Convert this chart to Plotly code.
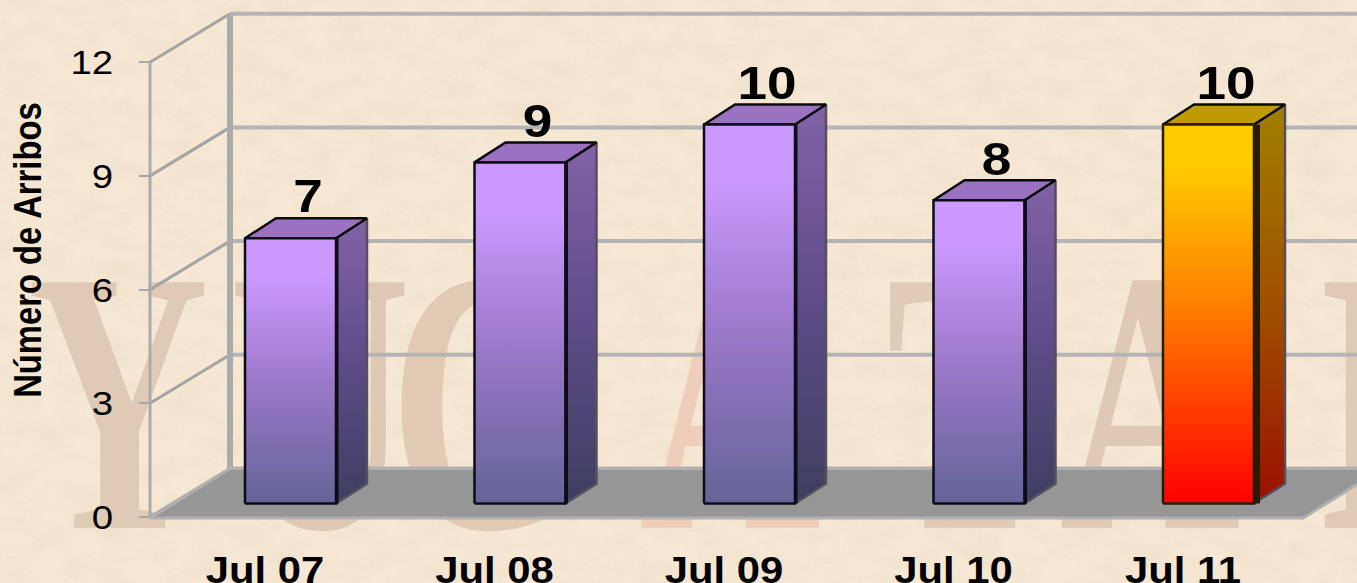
import base64
import plotly.graph_objects as go

# ---- data -------------------------------------------------------------
categories = ["Jul 07", "Jul 08", "Jul 09", "Jul 10", "Jul 11"]
arrivals = [7, 9, 10, 8, 10]
y_ticks = [0, 3, 6, 9, 12]
y_title = "Número de Arribos"
highlight = "Jul 11"

# ---- pseudo-3D projection, expressed in axis units --------------------
X_PX = 229.5   # pixels per category step
Y_PX = 37.9    # pixels per value unit
def dx(px): return px / X_PX
def dy(px): return px / Y_PX

WALL_DX, WALL_DY = dx(80), dy(48.5)      # depth of the chart box
BAR_OFF_X, BAR_OFF_Y = dx(25.5), dy(13.5)  # front face of the bars inside the box
BAR_DX, BAR_DY = dx(31), dy(20)          # depth of the bars
BAR_HALF = dx(45.5)
X0 = dx(-115)                            # left edge of the box at value axis
X1 = dx(1303 - 265)                      # right edge of the floor
X_END = dx(1400 - 265)

PURPLE = dict(
    front=[[0, "#646498"], [0.45, "#9A78C8"], [0.86, "#CB99FF"], [1, "#CB99FF"]],
    side=[[0, "#3E3E60"], [0.5, "#5E4C88"], [1, "#8262A8"]],
    top="#9A72C0", edge="#0c0c18", band=3.5)
GOLD = dict(
    front=[[0, "#FF0000"], [0.5, "#FF7A00"], [0.9, "#FFCC00"], [1, "#FFCC00"]],
    side=[[0, "#991000"], [0.5, "#A05000"], [1, "#A08000"]],
    top="#BF9900", edge="#2a1a00", band=7)

fig = go.Figure()
plain = dict(mode="lines", hoverinfo="skip", showlegend=False)

# ---- faint backdrop lettering -----------------------------------------
backdrop = [("Y", 118, "#DFCAB5", "middle center"), ("U", 320, "#DFC9B4", "middle center"),
            ("C", 480, "#E2CAB5", "middle center"), ("A", 730, "#EECDBA", "middle center"),
            ("T", 970, "#E0CCB6", "middle center"), ("A", 1150, "#DFC9B4", "middle center"),
            ("N", 1320, "#DFCAB5", "middle right")]
for ch, px, col, pos in backdrop:
    fig.add_trace(go.Scatter(
        x=[dx(px - 265)], y=[dy(517 - 434)], mode="text", text=[ch],
        textposition=pos, cliponaxis=False, hoverinfo="skip", showlegend=False,
        textfont=dict(family="Liberation Serif", size=375, color=col, weight="bold")))
fig.add_trace(go.Scatter(
    x=[dx(130 - 265), dx(1105 - 265)], y=[dy(517 - 562)] * 2, mode="text", text=["F", "• T"],
    textposition="bottom center", cliponaxis=False, hoverinfo="skip", showlegend=False,
    textfont=dict(family="Liberation Serif", size=72, color="#DCCDB8")))

# ---- walls ------------------------------------------------------------
for t in y_ticks:
    fig.add_trace(go.Scatter(x=[X0 + WALL_DX, X_END], y=[t + WALL_DY] * 2,
                             line=dict(color="#B4B4B4", width=4), **plain))
    fig.add_trace(go.Scatter(x=[X0, X0 + WALL_DX], y=[t, t + WALL_DY],
                             line=dict(color="#A4A4A4", width=3), **plain))
fig.add_trace(go.Scatter(x=[X0 + WALL_DX] * 2, y=[0 + WALL_DY, y_ticks[-1] + WALL_DY],
                         line=dict(color="#ABABAB", width=6), **plain))
fig.add_trace(go.Scatter(x=[X0, X0], y=[0, y_ticks[-1]],
                         line=dict(color="#ABABAB", width=3), **plain))

# ---- floor ------------------------------------------------------------
fig.add_trace(go.Scatter(
    x=[X0, X1, X1 + WALL_DX, X0 + WALL_DX, X0],
    y=[-dy(1), -dy(1), WALL_DY, WALL_DY, -dy(1)],
    fill="toself", fillcolor="#969696", line=dict(color="#B0B0B0", width=3), **plain))

# ---- bars -------------------------------------------------------------
for i, (cat, v) in enumerate(zip(categories, arrivals)):
    st = GOLD if cat == highlight else PURPLE
    xl = i + BAR_OFF_X - BAR_HALF
    xr = i + BAR_OFF_X + BAR_HALF
    y0 = BAR_OFF_Y
    y1 = v + BAR_OFF_Y
    # side face
    fig.add_trace(go.Scatter(
        x=[xr, xr + BAR_DX, xr + BAR_DX, xr, xr],
        y=[y0, y0 + BAR_DY, y1 + BAR_DY, y1, y0],
        fill="toself", fillgradient=dict(type="vertical", colorscale=st["side"]),
        line=dict(color="#55505c", width=2.5), **plain))
    # top face
    fig.add_trace(go.Scatter(
        x=[xl, xr, xr + BAR_DX, xl + BAR_DX, xl],
        y=[y1, y1, y1 + BAR_DY, y1 + BAR_DY, y1],
        fill="toself", fillcolor=st["top"], line=dict(color="#0a0a0a", width=2.5), **plain))
    # front face
    fig.add_trace(go.Scatter(
        x=[xl, xr, xr, xl, xl], y=[y0, y0, y1, y1, y0],
        fill="toself", fillgradient=dict(type="vertical", colorscale=st["front"]),
        line=dict(color=st["edge"], width=2.5), **plain))
    # dark edge between front and side
    fig.add_trace(go.Scatter(x=[xr + dx(st["band"] / 2 - 1)] * 2, y=[y0, y1],
                             line=dict(color=st["edge"], width=st["band"]), **plain))

# ---- value labels -----------------------------------------------------
fig.add_trace(go.Scatter(
    x=[i + BAR_OFF_X + BAR_DX / 2 + dx(2) for i in range(len(arrivals))],
    y=[v + BAR_OFF_Y + BAR_DY - dy(6) for v in arrivals],
    mode="text", text=[str(v) for v in arrivals], textposition="top center",
    cliponaxis=False, hoverinfo="skip", showlegend=False,
    textfont=dict(family="Liberation Sans", size=47, color="#000000", weight="bold")))

# ---- layout -----------------------------------------------------------
BOTTOM = 38
texture = ('<svg xmlns="http://www.w3.org/2000/svg" width="1357" height="583">'
           '<filter id="n" x="0" y="0" width="100%" height="100%">'
           '<feTurbulence type="fractalNoise" baseFrequency="0.03 0.05" numOctaves="5" seed="7"/>'
           '<feColorMatrix type="matrix" values="0 0 0 0 0.78  0 0 0 0 0.66  0 0 0 0 0.50  1.5 0 0 0 -0.55"/>'
           '</filter><rect width="1357" height="583" fill="#F6E8D4"/>'
           '<rect width="1357" height="583" filter="url(#n)" opacity="0.45"/></svg>')
fig.update_layout(
    width=1357, height=583, margin=dict(l=0, r=0, t=0, b=BOTTOM, autoexpand=False),
    paper_bgcolor="#F5E7D2", plot_bgcolor="rgba(0,0,0,0)", showlegend=False,
    font=dict(family="Liberation Sans", color="#000000"),
    images=[dict(source="data:image/svg+xml;base64," + base64.b64encode(texture.encode()).decode(),
                 xref="paper", yref="paper", x=0, y=1, sizex=1,
                 sizey=583 / 545, xanchor="left", yanchor="top", sizing="stretch", layer="below")],
    xaxis=dict(range=[dx(-265), dx(1357 - 265)], tickmode="array",
               tickvals=list(range(len(categories))), ticktext=categories,
               showgrid=False, zeroline=False, showline=False, ticks="",
               ticklabelstandoff=0,
               tickfont=dict(family="Liberation Sans", size=37, color="#000000", weight="bold")),
    yaxis=dict(range=[-dy(545 - 517), dy(517)],
               anchor="free", position=150 / 1357, tickmode="array", tickvals=y_ticks,
               ticktext=[str(t) for t in y_ticks], showgrid=False, zeroline=False,
               showline=False, ticks="outside", ticklen=11, tickwidth=2, tickcolor="#A6A6A6",
               ticklabelstandoff=19,
               tickfont=dict(family="Liberation Sans", size=34, color="#000000")),
    annotations=[dict(text="<b>" + y_title + "</b>", xref="paper", yref="paper",
                      x=27 / 1357, y=(545 - 250) / 545, textangle=-90, showarrow=False,
                      xanchor="center", yanchor="middle",
                      font=dict(family="Liberation Sans", size=39, color="#000000"))],
)

post = """
document.body.style.margin = '0';
document.body.style.overflow = 'hidden';
document.querySelectorAll('.main-svg text').forEach(function (t) {
  var size = parseFloat(getComputedStyle(t).fontSize);
  var rotated = !!t.closest('.annotation');
  var k = size > 200 ? 0.67 : (rotated ? 0.84 : 1.13);
  t.setAttribute('textLength', t.getComputedTextLength() * k);
  t.setAttribute('lengthAdjust', 'spacingAndGlyphs');
});
"""
fig.write_html("out.html", post_script=post, config={"displayModeBar": False})
